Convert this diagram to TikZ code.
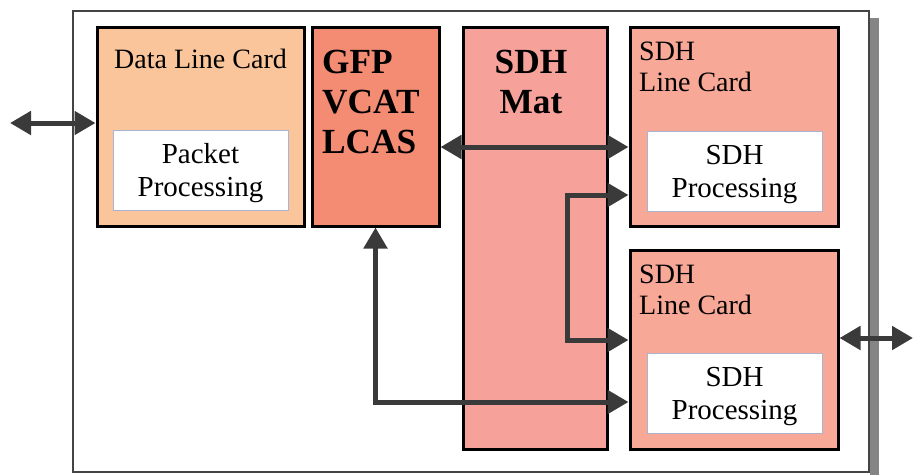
\documentclass[tikz,border=0pt]{standalone}
\usepackage{fontspec}
\setmainfont{Liberation Serif}
\usetikzlibrary{arrows.meta}
\definecolor{dlcfill}{HTML}{FAC59B}
\definecolor{gfpfill}{HTML}{F48C73}
\definecolor{matfill}{HTML}{F6A29A}
\definecolor{lcfill}{HTML}{F7A896}
\definecolor{innerline}{HTML}{AAB4D0}
\definecolor{arrowgray}{HTML}{3A3A3A}
\definecolor{framegray}{HTML}{444444}
\definecolor{shadowgray}{HTML}{858585}
\newcommand{\lowtext}[1]{\raisebox{-3pt}[\height][\depth]{\begin{tabular}{@{}c@{}}#1\end{tabular}}}
\tikzset{
  card/.style={draw=black, line width=3pt, inner sep=0pt, minimum width=#1},
  inner/.style={draw=innerline, line width=0.8pt, fill=white, inner sep=0pt,
    minimum width=175pt, minimum height=80pt, align=center,
    font=\fontsize{29}{33}\selectfont},
  lbl/.style={inner sep=0pt, font=\fontsize{28}{31}\selectfont},
  blbl/.style={inner sep=0pt, font=\fontsize{35.3}{40}\selectfont\bfseries},
  conn/.style={draw=arrowgray, line width=5pt,
    {Triangle[length=21pt,width=23pt]}-{Triangle[length=21pt,width=23pt]}}
}
\begin{document}
\begin{tikzpicture}[x=1pt,y=-1pt]
\useasboundingbox (0,0) rectangle (913,475);
% frame and shadow
\fill[shadowgray] (870,18) rectangle (879,475);
\draw[framegray, line width=2pt] (73,11) rectangle (869,472);
% cards
\node[card=207pt, minimum height=199pt, fill=dlcfill] (dlc) at (200.5,126.5) {};
\node[card=127pt, minimum height=199pt, fill=gfpfill] (gfp) at (375.5,126.5) {};
\node[card=144pt, minimum height=422pt, fill=matfill] (mat) at (535,238) {};
\node[card=208pt, minimum height=199pt, fill=lcfill] (lc1) at (734,126.5) {};
\node[card=208pt, minimum height=199pt, fill=lcfill] (lc2) at (734,349.5) {};
% inner boxes
\node[inner] (pp) at (200.5,170) {\lowtext{Packet\\Processing}};
\node[inner] (sp1) at (734.5,171) {\lowtext{SDH\\Processing}};
\node[inner] (sp2) at (734.5,393.5) {\lowtext{SDH\\Processing}};
% labels
\node[lbl, anchor=base] (dlct) at (200.5,68) {Data Line Card};
\node[blbl, anchor=north west, align=left] (gfpt) at (322,50) {GFP\\VCAT\\LCAS};
\node[blbl, anchor=north, align=center] (matt) at (531,50) {SDH\\Mat};
\node[lbl, anchor=north west, align=left] (lc1t) at (639,42) {SDH\\Line Card};
\node[lbl, anchor=north west, align=left] (lc2t) at (639,265) {SDH\\Line Card};
% connectors
\coordinate (extL) at (10,123);
\coordinate (extR) at (913,338);
\coordinate (y147) at (0,147);
\coordinate (jA) at (567,195);
\coordinate (jB) at (567,340);
\coordinate (y402) at (0,402);
\draw[conn] (extL) -- (extL -| dlc.west);
\draw[conn] (y147 -| gfp.east) -- (y147 -| lc1.west);
\draw[conn] (jA -| lc1.west) -- (jA) -- (jB) -- (jB -| lc2.west);
\draw[conn] (gfp.south) -- (gfp.south |- y402) -- (y402 -| lc2.west);
\draw[conn] (extR -| lc2.east) -- (extR);
\end{tikzpicture}
\end{document}
